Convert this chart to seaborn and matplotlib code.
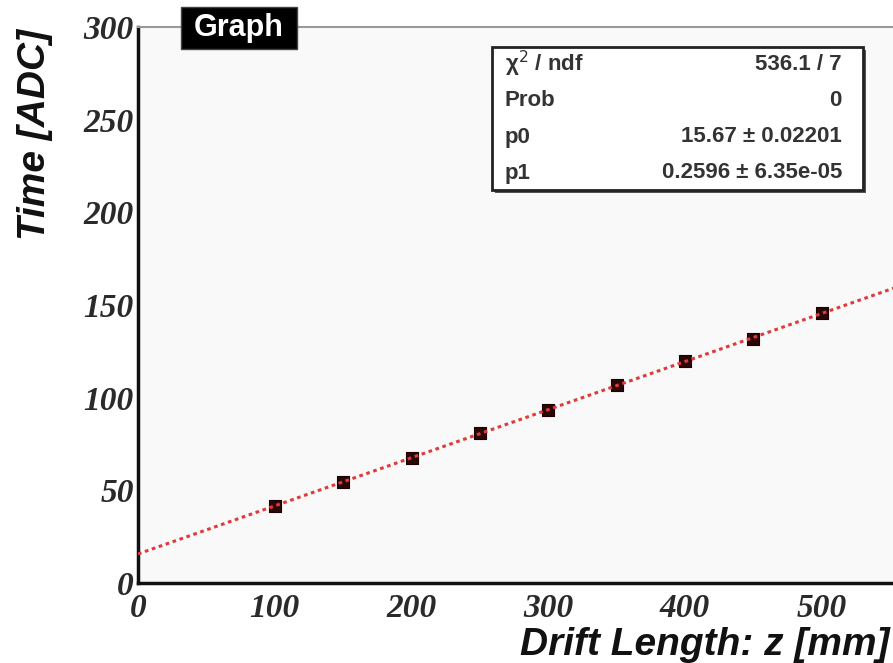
import numpy as np
import pandas as pd
import matplotlib
matplotlib.use("Agg")
import matplotlib.pyplot as plt
import seaborn as sns
from matplotlib.ticker import MultipleLocator
from matplotlib.patches import Rectangle

# ---- data ----
drift_length = [100, 150, 200, 250, 300, 350, 400, 450, 500]
time_adc = [41.8, 54.4, 67.2, 80.9, 93.2, 106.8, 119.6, 131.9, 145.9]
fit_p0 = 15.67
fit_p1 = 0.2596
fit_x = [0, 560]
stats_labels = ["\u03c7$^2$ / ndf", "Prob", "p0", "p1"]
stats_values = ["536.1 / 7", "0", "15.67 \u00b1 0.02201", "0.2596 \u00b1 6.35e-05"]
title_text = "Graph"
x_title = "Drift Length: z [mm]"
y_title = "Time [ADC]"

sns.set_style("white")
plt.rcParams['font.family'] = ['Liberation Sans', 'DejaVu Sans']

fig = plt.figure(figsize=(8.93, 6.63), dpi=100)
ax = fig.add_axes([138/893, 1-583/663, 1 - 138/893 + 0.02, (583-27)/663])
ax.set_facecolor("#f9f9f9")

points = pd.DataFrame({"x": drift_length, "y": time_adc})
fit_df = pd.DataFrame({"x": fit_x, "y": [fit_p0 + fit_p1 * v for v in fit_x]})

sns.scatterplot(data=points, x="x", y="y", ax=ax, marker="s", s=85,
                color="#2a0808", edgecolor="#1a0000", linewidth=0.8, zorder=3)
sns.lineplot(data=fit_df, x="x", y="y", ax=ax, color="#e03a3a", lw=2.2,
             linestyle=(0, (1.2, 1.2)), zorder=4)

ax.set_xlim(0, 552 + 0.02 * 893 / 1.368)
ax.set_ylim(0, 300)
ax.xaxis.set_major_locator(MultipleLocator(100))
ax.xaxis.set_minor_locator(MultipleLocator(20))
ax.yaxis.set_major_locator(MultipleLocator(50))
ax.yaxis.set_minor_locator(MultipleLocator(10))
ax.tick_params(axis="x", which="major", direction="in", length=12, width=1.5, color="#222222", pad=7)
ax.tick_params(axis="x", which="minor", direction="in", length=6, width=1.5, color="#222222")
ax.tick_params(axis="y", which="major", direction="in", length=15, width=1.5, color="#222222", pad=3)
ax.tick_params(axis="y", which="minor", direction="in", length=7, width=1.5, color="#222222")
for lab in ax.get_xticklabels() + ax.get_yticklabels():
    lab.set_fontfamily("Liberation Serif")
    lab.set_fontstyle("italic")
    lab.set_fontweight("bold")
    lab.set_fontsize(24)
    lab.set_color("#2a2a2a")
ax.set_xlabel("")
ax.set_ylabel("")

for side in ["left", "bottom"]:
    ax.spines[side].set_color("#111111")
    ax.spines[side].set_linewidth(2.5)
ax.spines["top"].set_color("#999999")
ax.spines["top"].set_linewidth(1.5)
ax.spines["right"].set_visible(False)

# axis titles
fig.text(890/893, 1-645/663, x_title, ha="right", va="center", fontsize=28,
         fontweight="bold", fontstyle="italic", color="#111111")
fig.text(35/893, 1-29/663, y_title, ha="center", va="top", rotation=90, fontsize=28,
         fontweight="bold", fontstyle="italic", color="#111111")

# title box
fig.patches.append(Rectangle((181/893, 1-49/663), 116/893, 42/663, transform=fig.transFigure,
                             facecolor="black", edgecolor="#444444", lw=1, zorder=5))
fig.text(239/893, 1-28/663, title_text, ha="center", va="center", fontsize=22,
         fontweight="bold", color="white", zorder=6)

# stats box
fig.patches.append(Rectangle((495/893, 1-193/663), 371/893, 143/663, transform=fig.transFigure,
                             facecolor="#555555", edgecolor="none", zorder=5))
fig.patches.append(Rectangle((492/893, 1-190/663), 371/893, 143/663, transform=fig.transFigure,
                             facecolor="white", edgecolor="#222222", lw=2, zorder=6))
rows_y = [64, 101, 137, 173]
for lab, val, yy in zip(stats_labels, stats_values, rows_y):
    fig.text(505/893, 1-yy/663, lab, ha="left", va="center", fontsize=16,
             fontweight="bold", color="#333333", zorder=7)
    fig.text(842/893, 1-yy/663, val, ha="right", va="center", fontsize=16,
             fontweight="bold", color="#333333", zorder=7)

fig.savefig("out.png", dpi=100)
